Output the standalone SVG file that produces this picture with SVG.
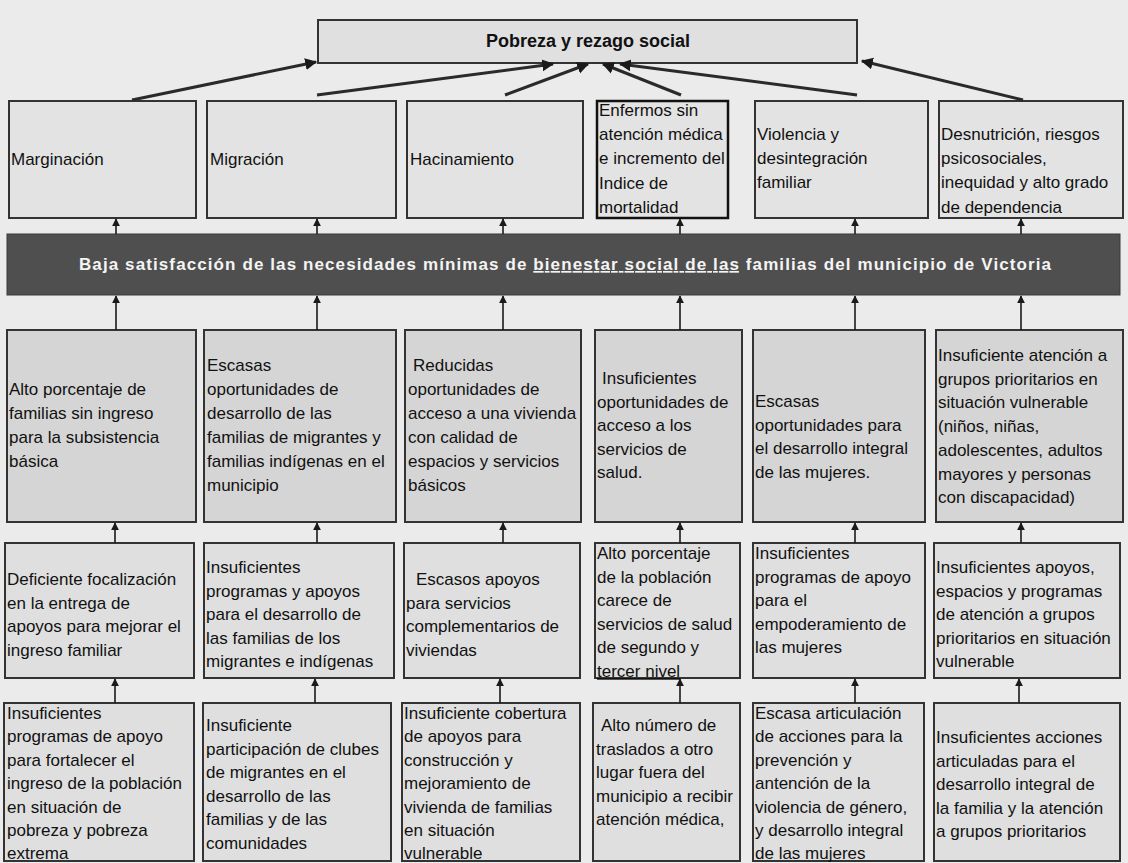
<svg xmlns="http://www.w3.org/2000/svg" width="1128" height="863" viewBox="0 0 1128 863">
<defs>
<marker id="ah" viewBox="0 0 10 10" refX="9" refY="5" markerWidth="4" markerHeight="5" orient="auto" markerUnits="strokeWidth">
<path d="M0,0 L10,5 L0,10 z" fill="#1a1a1a"/>
</marker>
<marker id="ahv" viewBox="0 0 10 10" refX="9" refY="5" markerWidth="5" markerHeight="5" orient="auto" markerUnits="strokeWidth">
<path d="M0,0 L10,5 L0,10 z" fill="#1a1a1a"/>
</marker>
<style>
.bx{stroke:#333;stroke-width:2;}
.r1{fill:#e3e3e3;}
.r2{fill:#d5d5d5;}
.r3{fill:#dfdfdf;}
.t{font-family:"Liberation Sans",Arial,sans-serif;font-size:17px;fill:#111;}
.dg{stroke:#2a2a2a;stroke-width:3;fill:none;marker-end:url(#ah);}
.vt{stroke:#1a1a1a;stroke-width:1.6;fill:none;marker-end:url(#ahv);}
</style>
</defs>
<rect x="0" y="0" width="1128" height="863" fill="#ebebeb"/>

<g id="title">
<rect class="bx" x="318" y="20" width="539" height="43" fill="#e0e0e0"/>
<text x="588" y="47" text-anchor="middle" font-family="Liberation Sans,Arial,sans-serif" font-size="18" font-weight="bold" fill="#111">Pobreza y rezago social</text>
</g>

<g id="e1"><rect class="bx r1" x="9" y="101" width="187" height="117"/>
<text class="t" x="11" y="165">Marginación</text></g>
<g id="e2"><rect class="bx r1" x="207" y="101" width="189" height="117"/>
<text class="t" x="210" y="165">Migración</text></g>
<g id="e3"><rect class="bx r1" x="407" y="101" width="176" height="117"/>
<text class="t" x="410" y="165">Hacinamiento</text></g>
<g id="e4"><rect class="bx r1" x="597" y="101" width="131" height="117" style="stroke:#111;stroke-width:2.5"/>
<text class="t" x="599" y="116"><tspan x="599">Enfermos sin</tspan><tspan x="599" dy="24.2">atención médica</tspan><tspan x="599" dy="24.2">e incremento del</tspan><tspan x="599" dy="24.2">Indice de</tspan><tspan x="599" dy="24.2">mortalidad</tspan></text></g>
<g id="e5"><rect class="bx r1" x="755" y="101" width="173" height="117"/>
<text class="t" x="757" y="140"><tspan x="757">Violencia y</tspan><tspan x="757" dy="24.2">desintegración</tspan><tspan x="757" dy="24.2">familiar</tspan></text></g>
<g id="e6"><rect class="bx r1" x="939" y="101" width="184" height="117"/>
<text class="t" x="941" y="140"><tspan x="941">Desnutrición, riesgos</tspan><tspan x="941" dy="24.2">psicosociales,</tspan><tspan x="941" dy="24.2">inequidad y alto grado</tspan><tspan x="941" dy="24.2">de dependencia</tspan></text></g>

<g id="problema">
<rect x="7" y="234" width="1113" height="61" fill="#4f4f4f" stroke="#3a3a3a" stroke-width="1"/>
<text x="565" y="270" text-anchor="middle" font-family="Liberation Sans,Arial,sans-serif" font-size="17" font-weight="bold" fill="#f4f4f4" textLength="972" lengthAdjust="spacing">Baja  satisfacción de las necesidades mínimas de <tspan text-decoration="underline">bienestar social de las</tspan> familias del municipio de Victoria</text>
</g>

<g id="c1"><rect class="bx r2" x="7" y="330" width="189" height="192"/>
<text class="t" x="9" y="395"><tspan x="9">Alto porcentaje de</tspan><tspan x="9" dy="24">familias sin ingreso</tspan><tspan x="9" dy="24">para la subsistencia</tspan><tspan x="9" dy="24">básica</tspan></text></g>
<g id="c2"><rect class="bx r2" x="204" y="330" width="192" height="192"/>
<text class="t" x="207" y="371"><tspan x="207">Escasas</tspan><tspan x="207" dy="24">oportunidades de</tspan><tspan x="207" dy="24">desarrollo de las</tspan><tspan x="207" dy="24">familias de migrantes y</tspan><tspan x="207" dy="24">familias indígenas en el</tspan><tspan x="207" dy="24">municipio</tspan></text></g>
<g id="c3"><rect class="bx r2" x="405" y="330" width="176" height="192"/>
<text class="t" x="408" y="371"><tspan x="413">Reducidas</tspan><tspan x="408" dy="24">oportunidades de</tspan><tspan x="408" dy="24">acceso a una vivienda</tspan><tspan x="408" dy="24">con calidad de</tspan><tspan x="408" dy="24">espacios  y servicios</tspan><tspan x="408" dy="24">básicos</tspan></text></g>
<g id="c4"><rect class="bx r2" x="595" y="330" width="147" height="192"/>
<text class="t" x="597" y="384"><tspan x="602">Insuficientes</tspan><tspan x="597" dy="23.5">oportunidades de</tspan><tspan x="597" dy="23.5">acceso a los</tspan><tspan x="597" dy="23.5">servicios de</tspan><tspan x="597" dy="23.5">salud.</tspan></text></g>
<g id="c5"><rect class="bx r2" x="753" y="330" width="172" height="192"/>
<text class="t" x="755" y="407"><tspan x="755">Escasas</tspan><tspan x="755" dy="23.5">oportunidades para</tspan><tspan x="755" dy="23.5">el desarrollo integral</tspan><tspan x="755" dy="23.5">de las mujeres.</tspan></text></g>
<g id="c6"><rect class="bx r2" x="936" y="330" width="187" height="192"/>
<text class="t" x="938" y="361"><tspan x="938">Insuficiente atención a</tspan><tspan x="938" dy="23.7">grupos prioritarios en</tspan><tspan x="938" dy="23.7">situación vulnerable</tspan><tspan x="938" dy="23.7">(niños, niñas,</tspan><tspan x="938" dy="23.7">adolescentes, adultos</tspan><tspan x="938" dy="23.7">mayores y personas</tspan><tspan x="938" dy="23.7">con discapacidad)</tspan></text></g>

<g id="d1"><rect class="bx r3" x="5" y="543" width="189" height="135"/>
<text class="t" x="7" y="585"><tspan x="7">Deficiente focalización</tspan><tspan x="7" dy="23.5">en la entrega de</tspan><tspan x="7" dy="23.5">apoyos para mejorar el</tspan><tspan x="7" dy="23.5">ingreso familiar</tspan></text></g>
<g id="d2"><rect class="bx r3" x="204" y="543" width="190" height="135"/>
<text class="t" x="206" y="573"><tspan x="206">Insuficientes</tspan><tspan x="206" dy="23.5">programas y apoyos</tspan><tspan x="206" dy="23.5">para el desarrollo de</tspan><tspan x="206" dy="23.5">las familias de los</tspan><tspan x="206" dy="23.5">migrantes e indígenas</tspan></text></g>
<g id="d3"><rect class="bx r3" x="404" y="543" width="176" height="135"/>
<text class="t" x="406" y="585"><tspan x="416">Escasos apoyos</tspan><tspan x="406" dy="23.5">para servicios</tspan><tspan x="406" dy="23.5">complementarios de</tspan><tspan x="406" dy="23.5">viviendas</tspan></text></g>
<g id="d4"><rect class="bx r3" x="595" y="543" width="145" height="135"/>
<text class="t" x="597" y="559"><tspan x="597">Alto porcentaje</tspan><tspan x="597" dy="23.6">de la población</tspan><tspan x="597" dy="23.6">carece de</tspan><tspan x="597" dy="23.6">servicios de salud</tspan><tspan x="597" dy="23.6">de segundo y</tspan><tspan x="597" dy="23.6" text-decoration="underline">tercer nivel</tspan></text></g>
<g id="d5"><rect class="bx r3" x="753" y="543" width="172" height="135"/>
<text class="t" x="755" y="559"><tspan x="755">Insuficientes</tspan><tspan x="755" dy="23.6">programas de apoyo</tspan><tspan x="755" dy="23.6">para el</tspan><tspan x="755" dy="23.6">empoderamiento de</tspan><tspan x="755" dy="23.6">las mujeres</tspan></text></g>
<g id="d6"><rect class="bx r3" x="934" y="543" width="186" height="135"/>
<text class="t" x="936" y="573"><tspan x="936">Insuficientes apoyos,</tspan><tspan x="936" dy="23.5">espacios  y programas</tspan><tspan x="936" dy="23.5">de atención a grupos</tspan><tspan x="936" dy="23.5">prioritarios en situación</tspan><tspan x="936" dy="23.5">vulnerable</tspan></text></g>

<g id="f1"><rect class="bx r3" x="4" y="703" width="190" height="158"/>
<text class="t" x="7" y="719"><tspan x="7">Insuficientes</tspan><tspan x="7" dy="23.4">programas de apoyo</tspan><tspan x="7" dy="23.4">para fortalecer el</tspan><tspan x="7" dy="23.4">ingreso de la población</tspan><tspan x="7" dy="23.4">en situación de</tspan><tspan x="7" dy="23.4">pobreza y pobreza</tspan><tspan x="7" dy="23.4">extrema</tspan></text></g>
<g id="f2"><rect class="bx r3" x="203" y="703" width="188" height="158"/>
<text class="t" x="206" y="731"><tspan x="206">Insuficiente</tspan><tspan x="206" dy="23.6">participación de clubes</tspan><tspan x="206" dy="23.6">de migrantes en el</tspan><tspan x="206" dy="23.6">desarrollo de las</tspan><tspan x="206" dy="23.6">familias y de las</tspan><tspan x="206" dy="23.6">comunidades</tspan></text></g>
<g id="f3"><rect class="bx r3" x="402" y="703" width="178" height="158"/>
<text class="t" x="404" y="719"><tspan x="404">Insuficiente cobertura</tspan><tspan x="404" dy="23.4">de apoyos para</tspan><tspan x="404" dy="23.4">construcción y</tspan><tspan x="404" dy="23.4">mejoramiento de</tspan><tspan x="404" dy="23.4">vivienda de familias</tspan><tspan x="404" dy="23.4">en situación</tspan><tspan x="404" dy="23.4">vulnerable</tspan></text></g>
<g id="f4"><rect class="bx r3" x="593" y="703" width="147" height="158"/>
<text class="t" x="596" y="731"><tspan x="601">Alto número de</tspan><tspan x="596" dy="23.6">traslados a otro</tspan><tspan x="596" dy="23.6">lugar fuera del</tspan><tspan x="596" dy="23.6">municipio a recibir</tspan><tspan x="596" dy="23.6">atención médica,</tspan></text></g>
<g id="f5"><rect class="bx r3" x="753" y="703" width="171" height="158"/>
<text class="t" x="755" y="719"><tspan x="755">Escasa articulación</tspan><tspan x="755" dy="23.4">de acciones para la</tspan><tspan x="755" dy="23.4">prevención y</tspan><tspan x="755" dy="23.4">antención de la</tspan><tspan x="755" dy="23.4">violencia de género,</tspan><tspan x="755" dy="23.4">y desarrollo integral</tspan><tspan x="755" dy="23.4">de las mujeres</tspan></text></g>
<g id="f6"><rect class="bx r3" x="934" y="703" width="186" height="158"/>
<text class="t" x="936" y="743"><tspan x="936">Insuficientes acciones</tspan><tspan x="936" dy="23.6">articuladas  para el</tspan><tspan x="936" dy="23.6">desarrollo integral de</tspan><tspan x="936" dy="23.6">la familia y la atención</tspan><tspan x="936" dy="23.6">a grupos prioritarios</tspan></text></g>

<g id="connectors">
<line class="dg" x1="132" y1="100" x2="316" y2="62"/>
<line class="dg" x1="317" y1="95" x2="553" y2="64"/>
<line class="dg" x1="505" y1="95" x2="588" y2="64"/>
<line class="dg" x1="681" y1="95" x2="603" y2="64"/>
<line class="dg" x1="857" y1="95" x2="620" y2="64"/>
<line class="dg" x1="1023" y1="100" x2="862" y2="61"/>

<line class="vt" x1="116" y1="234" x2="116" y2="219"/>
<line class="vt" x1="317" y1="234" x2="317" y2="219"/>
<line class="vt" x1="503" y1="234" x2="503" y2="219"/>
<line class="vt" x1="680" y1="234" x2="680" y2="219"/>
<line class="vt" x1="855" y1="234" x2="855" y2="219"/>
<line class="vt" x1="1021" y1="234" x2="1021" y2="219"/>

<line class="vt" x1="116" y1="330" x2="116" y2="296"/>
<line class="vt" x1="317" y1="330" x2="317" y2="296"/>
<line class="vt" x1="503" y1="330" x2="503" y2="296"/>
<line class="vt" x1="680" y1="330" x2="680" y2="296"/>
<line class="vt" x1="855" y1="330" x2="855" y2="296"/>
<line class="vt" x1="1021" y1="330" x2="1021" y2="296"/>

<line class="vt" x1="115" y1="543" x2="115" y2="523"/>
<line class="vt" x1="317" y1="543" x2="317" y2="523"/>
<line class="vt" x1="503" y1="543" x2="503" y2="523"/>
<line class="vt" x1="680" y1="543" x2="680" y2="523"/>
<line class="vt" x1="855" y1="543" x2="855" y2="523"/>
<line class="vt" x1="1021" y1="543" x2="1021" y2="523"/>

<line class="vt" x1="115" y1="703" x2="115" y2="679"/>
<line class="vt" x1="315" y1="703" x2="315" y2="679"/>
<line class="vt" x1="500" y1="703" x2="500" y2="679"/>
<line class="vt" x1="680" y1="703" x2="680" y2="679"/>
<line class="vt" x1="855" y1="703" x2="855" y2="679"/>
<line class="vt" x1="1019" y1="703" x2="1019" y2="679"/>
</g>
</svg>
